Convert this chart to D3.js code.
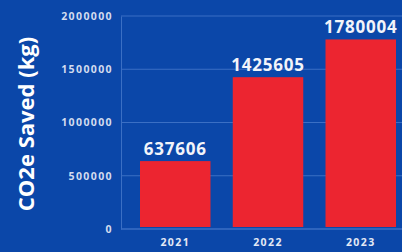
<!DOCTYPE html>
<html>
<head>
<meta charset="utf-8">
<script src="https://cdn.jsdelivr.net/npm/d3@7"></script>
<style>
  html, body { margin: 0; padding: 0; background: #0b47a9; }
  svg { display: block; }
  text { font-family: "Open Sans", sans-serif; font-weight: 700; }
</style>
</head>
<body>
<svg id="chart"></svg>
<script>
// chart data
var years = ["2021", "2022", "2023"];
var saved = [637606, 1425605, 1780004];
var yTicks = [0, 500000, 1000000, 1500000, 2000000];

var width = 402, height = 252;
var plot = { left: 121, right: 402, top: 16, bottom: 229 };

var svg = d3.select("#chart")
	.attr("width", width)
	.attr("height", height);

svg.append("rect")
	.attr("width", width).attr("height", height)
	.attr("fill", "#0b47a9");

var x = d3.scaleBand()
	.domain(years)
	.range([140, 396])
	.paddingInner(0.24)
	.paddingOuter(0);

var y = d3.scaleLinear()
	.domain([0, 2000000])
	.range([plot.bottom, plot.top]);

// gridlines
svg.append("g")
	.selectAll("line")
	.data(yTicks).enter().append("line")
	.attr("x1", plot.left).attr("x2", plot.right)
	.attr("y1", function(d){ return y(d); })
	.attr("y2", function(d){ return y(d); })
	.attr("stroke", "#3b6fc4")
	.attr("stroke-width", 1);

// y axis
var yAxis = svg.append("g")
	.attr("transform", "translate(" + plot.left + ",0)")
	.call(d3.axisLeft(y).tickValues(yTicks).tickSize(0).tickPadding(8).tickFormat(d3.format("d")));
yAxis.select(".domain").attr("stroke", "#3b6fc4");
yAxis.selectAll("text")
	.attr("fill", "#d3dcef")
	.style("font-size", "10.5px")
	.style("letter-spacing", "1.4px");

// bars
svg.append("g")
	.selectAll("rect")
	.data(saved).enter().append("rect")
	.attr("x", function(d, i){ return x(years[i]); })
	.attr("width", x.bandwidth())
	.attr("y", function(d){ return y(d); })
	.attr("height", function(d){ return y(0) - y(d) - 2; })
	.attr("fill", "#ec2530");

// value labels
svg.append("g")
	.selectAll("text")
	.data(saved).enter().append("text")
	.attr("x", function(d, i){ return x(years[i]) + x.bandwidth() / 2; })
	.attr("y", function(d){ return y(d) - 6; })
	.attr("text-anchor", "middle")
	.attr("fill", "#f2f4fa")
	.style("font-size", "17px")
	.style("letter-spacing", "0.8px")
	.text(function(d){ return d; });

// x axis
var xAxis = svg.append("g")
	.attr("transform", "translate(0," + plot.bottom + ")")
	.call(d3.axisBottom(x).tickSize(0).tickPadding(10));
xAxis.select(".domain").remove();
svg.append("line")
	.attr("x1", plot.left).attr("x2", plot.right)
	.attr("y1", plot.bottom).attr("y2", plot.bottom)
	.attr("stroke", "#3b6fc4");
xAxis.selectAll("text")
	.attr("fill", "#e3e9f5")
	.style("font-size", "10.5px")
	.style("letter-spacing", "1.4px");

// y axis title
svg.append("text")
	.attr("transform", "translate(34,124) rotate(-90)")
	.attr("text-anchor", "middle")
	.attr("fill", "#ffffff")
	.style("font-size", "22px")
	.text("CO2e Saved (kg)");
</script>
</body>
</html>
